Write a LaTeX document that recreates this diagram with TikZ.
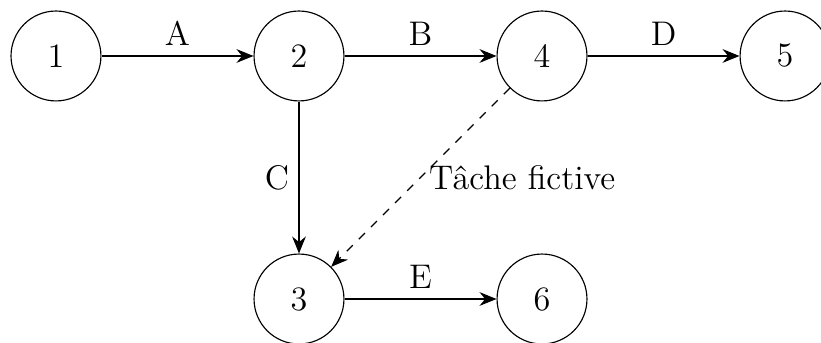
\documentclass[tikz,border=0pt]{standalone}
\usetikzlibrary{arrows.meta}
\begin{document}
\begin{tikzpicture}[
  font=\fontsize{12}{14}\selectfont,
  event/.style={draw, circle, minimum size=1.11cm, inner sep=0pt, line width=0.4pt},
  task/.style={-{Stealth[length=2.1mm,width=1.7mm,inset=0.7mm]}, line width=0.4pt},
  dummy/.style={task, dashed}
]
\useasboundingbox (-0.691,-3.531) rectangle (9.444,0.691);
\node[event] (n1) at (0,0) {1};
\node[event] (n2) at (3,0) {2};
\node[event] (n4) at (6,0) {4};
\node[event] (n5) at (9,0) {5};
\node[event] (n3) at (3,-3) {3};
\node[event] (n6) at (6,-3) {6};

\draw[task] (n1) -- node[above] (lA) {A} (n2);
\draw[task] (n2) -- node[above] (lB) {B} (n4);
\draw[task] (n4) -- node[above] (lD) {D} (n5);
\draw[task] (n2) -- node[left] (lC) {C} (n3);
\draw[task] (n3) -- node[above] (lE) {E} (n6);
\draw[dummy] (n4) -- node[right, xshift=-0.5pt] (lF) {Tâche fictive} (n3);
\end{tikzpicture}
\end{document}
